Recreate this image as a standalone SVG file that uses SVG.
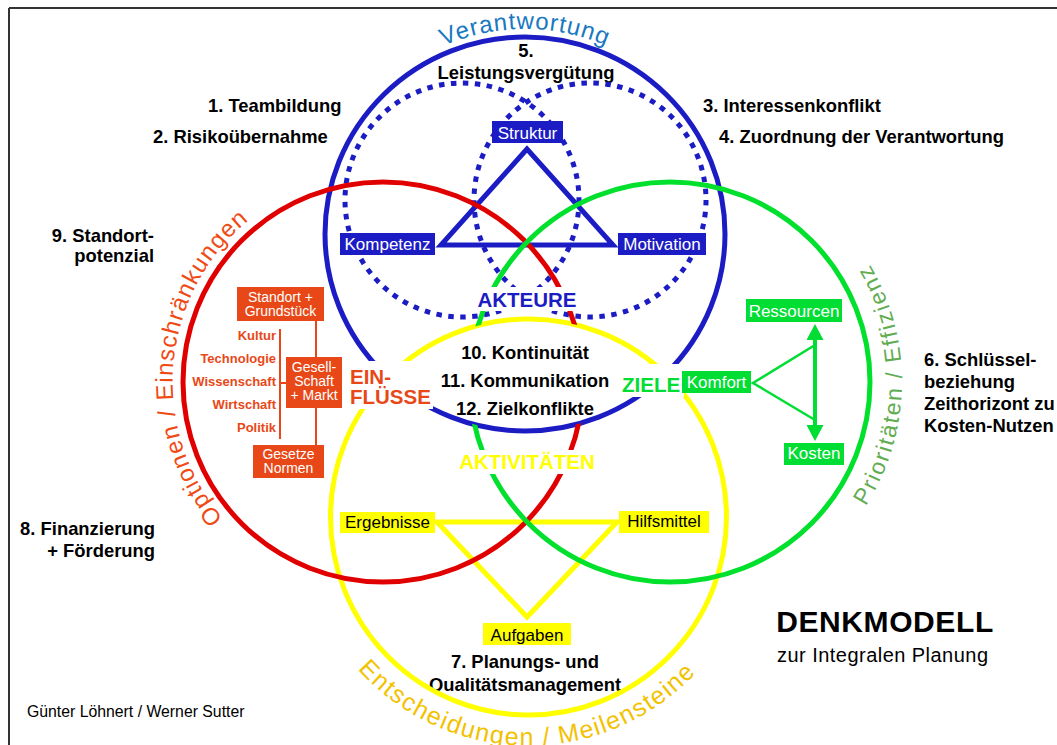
<svg xmlns="http://www.w3.org/2000/svg" width="1057" height="745" viewBox="0 0 1057 745">
<defs>
<style>
text{font-family:"Liberation Sans",Arial,Helvetica,sans-serif}
.ring{fill:none;stroke-width:5}
.dot{fill:none;stroke:#1c1cc4;stroke-width:5;stroke-dasharray:5.5 6.5}
.bk{font-weight:bold;font-size:18.4px;fill:#000}
.lb{font-size:17px;text-anchor:middle}
.wt{fill:#fff}
.bb{fill:#1c1cc4}
.gb{fill:#00dd33}
.yb{fill:#ffff00}
.ob{fill:#e84818}
.ot{font-size:14px;fill:#fff;text-anchor:middle}
.inf{font-weight:bold;font-size:13px;fill:#e84818;text-anchor:end}
.big{font-weight:bold;font-size:20.5px}
.arc{font-size:24px}
</style>
<path id="pVer" d="M320,234 A205,205 0 0,1 730,234"/>
<path id="pOpt" d="M361.05,590.85 A210,210 0 0,1 397.65,172.5"/>
<path id="pPri" d="M674,613 A231,231 0 0,0 680.1,151.2"/>
<path id="pEnt" d="M299.5,519 A229,229 0 0,0 757.4,523"/>
<mask id="nolens" maskUnits="userSpaceOnUse" x="0" y="0" width="1057" height="745">
<rect x="0" y="0" width="1057" height="745" fill="#fff"/>
<path d="M388,377.5 A200,197 0 0,0 665.6,374 A198,198 0 0,0 388,377.5 Z" fill="#000"/>
</mask>
<marker id="ah" viewBox="0 0 16 17" refX="0" refY="8.5" markerWidth="16" markerHeight="17" markerUnits="userSpaceOnUse" orient="auto-start-reverse">
<path d="M0,0 L16,8.5 L0,17 Z" fill="#00dd33"/>
</marker>
</defs>
<rect x="0" y="0" width="1057" height="745" fill="#fff"/>
<g id="frame" stroke="#333" stroke-width="2" fill="none">
<line x1="9" y1="8" x2="1057" y2="8"/>
<line x1="9" y1="8" x2="9" y2="745"/>
</g>

<g id="notes" class="bk">
<text x="526" y="57" text-anchor="middle">5.</text>
<text x="526" y="79" text-anchor="middle">Leistungsvergütung</text>
<text x="208" y="112">1. Teambildung</text>
<text x="153" y="143">2. Risikoübernahme</text>
<text x="703" y="112">3. Interessenkonflikt</text>
<text x="719" y="143">4. Zuordnung der Verantwortung</text>
<text x="154" y="242" text-anchor="end">9. Standort-</text>
<text x="154" y="262" text-anchor="end">potenzial</text>
<text x="924" y="366">6. Schlüssel-</text>
<text x="924" y="388">beziehung</text>
<text x="924" y="410">Zeithorizont zu</text>
<text x="924" y="432">Kosten-Nutzen</text>
<text x="155" y="535" text-anchor="end">8. Finanzierung</text>
<text x="155" y="557" text-anchor="end">+ Förderung</text>
<text x="525" y="668" text-anchor="middle">7. Planungs- und</text>
<text x="525" y="691" text-anchor="middle">Qualitätsmanagement</text>
</g>

<g id="arc-labels" class="arc">
<text fill="#1878c0" letter-spacing="1"><textPath href="#pVer" startOffset="50%" text-anchor="middle">Verantwortung</textPath></text>
<text fill="#f04a14" letter-spacing="1.2"><textPath href="#pOpt" startOffset="50%" text-anchor="middle">Optionen / Einschränkungen</textPath></text>
<text fill="#62ad52" font-size="23" letter-spacing="2"><textPath href="#pPri" startOffset="50%" text-anchor="middle">Prioritäten / Effizienz</textPath></text>
<text fill="#f2c200" font-size="25" letter-spacing="1.4"><textPath href="#pEnt" startOffset="50%" text-anchor="middle">Entscheidungen / Meilensteine</textPath></text>
</g>

<g id="connectors">
<ellipse class="dot" cx="462" cy="200" rx="117" ry="117"/>
<ellipse class="dot" cx="590" cy="200" rx="116" ry="117"/>
<polygon points="527,149 441,245 613,245" fill="none" stroke="#1c1cc4" stroke-width="5"/>
<polygon points="437,522 617,522 527,617" fill="none" stroke="#ffff00" stroke-width="5"/>
<g stroke="#00dd33" fill="none">
<line x1="815" y1="340" x2="815" y2="425" stroke-width="4" marker-start="url(#ah)" marker-end="url(#ah)"/>
<polyline points="815,345 753,383 815,420" stroke-width="2.5"/>
</g>
<g stroke="#e84818" stroke-width="2" fill="none">
<line x1="280" y1="329" x2="280" y2="439"/>
<line x1="280" y1="383" x2="286" y2="383"/>
<line x1="316" y1="321" x2="316" y2="357"/>
<line x1="316" y1="408" x2="316" y2="445"/>
</g>
</g>

<g id="circles">
<ellipse id="c-akteure" class="ring" stroke="#1c1cc4" cx="525" cy="234" rx="200" ry="197"/>
<circle id="c-aktivitaeten" class="ring" stroke="#ffff00" cx="528.5" cy="517" r="198"/>
<circle id="c-einfluesse" class="ring" stroke="#e00000" cx="383" cy="382" r="200" mask="url(#nolens)"/>
<circle id="c-ziele" class="ring" stroke="#00e02c" cx="670" cy="382" r="200" mask="url(#nolens)"/>
</g>

<g id="center-text" class="bk">
<text x="525" y="359" text-anchor="middle">10. Kontinuität</text>
<text x="525" y="387" text-anchor="middle">11. Kommunikation</text>
<text x="525" y="415" text-anchor="middle">12. Zielkonflikte</text>
</g>

<g id="akteure">
<rect class="wt" x="472" y="287" width="110" height="24"/>
<text class="big" x="527" y="307" text-anchor="middle" fill="#1c1cc4">AKTEURE</text>
</g>
<g id="aktivitaeten">
<rect class="wt" x="455" y="450" width="145" height="24"/>
<text class="big" x="527" y="469" text-anchor="middle" fill="#ffff00">AKTIVITÄTEN</text>
</g>
<g id="einfluesse">
<rect class="wt" x="345" y="361" width="88" height="48"/>
<text class="big" x="350" y="384" fill="#e84818">EIN-</text>
<text class="big" x="350" y="404" fill="#e84818">FLÜSSE</text>
</g>
<g id="ziele">
<rect class="wt" x="617" y="364" width="67" height="33"/>
<text class="big" x="622" y="392" fill="#00dd33">ZIELE</text>
</g>

<g id="struktur"><rect class="bb" x="492" y="121" width="71" height="22"/><text class="lb wt" x="527.5" y="139">Struktur</text></g>
<g id="kompetenz"><rect class="bb" x="340" y="233" width="95" height="22"/><text class="lb wt" x="387.5" y="250">Kompetenz</text></g>
<g id="motivation"><rect class="bb" x="618" y="233" width="88" height="22"/><text class="lb wt" x="662" y="250">Motivation</text></g>

<g id="ressourcen"><rect class="gb" x="746" y="299" width="96" height="23"/><text class="lb wt" x="794" y="317">Ressourcen</text></g>
<g id="komfort"><rect class="gb" x="682" y="371" width="69" height="22"/><text class="lb wt" x="716.5" y="388">Komfort</text></g>
<g id="kosten"><rect class="gb" x="784" y="443" width="60" height="22"/><text class="lb wt" x="814" y="459">Kosten</text></g>

<g id="ergebnisse"><rect class="yb" x="340" y="512" width="95" height="21"/><text class="lb" x="387.5" y="528">Ergebnisse</text></g>
<g id="hilfsmittel"><rect class="yb" x="619" y="511" width="90" height="22"/><text class="lb" x="664" y="527">Hilfsmittel</text></g>
<g id="aufgaben"><rect class="yb" x="483" y="623" width="88" height="22"/><text class="lb" x="527" y="641">Aufgaben</text></g>

<g id="standort"><rect class="ob" x="237" y="287" width="87" height="34"/><text class="ot" x="280.5" y="302">Standort +</text><text class="ot" x="280.5" y="316">Grundstück</text></g>
<g id="gesellschaft"><rect class="ob" x="286" y="357" width="56" height="51"/><text class="ot" x="314" y="372">Gesell-</text><text class="ot" x="314" y="386">Schaft</text><text class="ot" x="314" y="400">+ Markt</text></g>
<g id="gesetze"><rect class="ob" x="253" y="445" width="71" height="33"/><text class="ot" x="288.5" y="459">Gesetze</text><text class="ot" x="288.5" y="473">Normen</text></g>
<g id="faktoren" class="inf">
<text x="276" y="340">Kultur</text>
<text x="276" y="363">Technologie</text>
<text x="276" y="386">Wissenschaft</text>
<text x="276" y="409">Wirtschaft</text>
<text x="276" y="432">Politik</text>
</g>

<g id="title">
<text x="885" y="632" text-anchor="middle" font-weight="bold" font-size="30" letter-spacing="0.6">DENKMODELL</text>
<text x="777" y="662" font-size="20" textLength="211" lengthAdjust="spacing">zur Integralen Planung</text>
</g>
<text id="authors" x="27" y="717" font-size="15.8">Günter Löhnert / Werner Sutter</text>
</svg>
